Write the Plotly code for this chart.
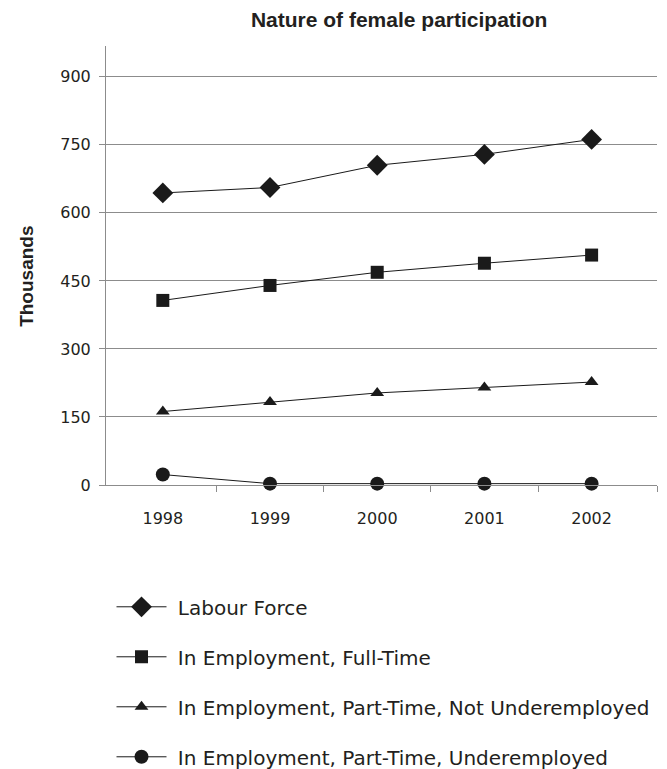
import plotly.graph_objects as go

years = [1998, 1999, 2000, 2001, 2002]
labour_force = [644, 656, 705, 729, 762]
full_time = [407, 440, 469, 489, 507]
part_time_not_under = [162, 183, 203, 215, 227]
part_time_under = [23, 3, 3, 3, 3]

series = [
    ("Labour Force", labour_force, "diamond", 16),
    ("In Employment, Full-Time", full_time, "square", 13),
    ("In Employment, Part-Time, Not Underemployed", part_time_not_under, "triangle-up", 12),
    ("In Employment, Part-Time, Underemployed", part_time_under, "circle", 14),
]

txt = "#231f20"
grid = "#8c8c8c"
body_font = "DejaVu Sans, Verdana, sans-serif"
head_font = "Liberation Sans, Arial, sans-serif"

# the page places the figure 8px in from the top-left corner
W, H = 659, 761

fig = go.Figure()
for i, (name, vals, sym, size) in enumerate(series):
    fig.add_trace(go.Scatter(
        x=years, y=vals, name="\u00a0" + name, mode="lines+markers",
        line=dict(color="#1a1a1a", width=1),
        marker=dict(symbol=sym, size=size, color="#1a1a1a"),
        legendgroup=f"g{i}", cliponaxis=False,
    ))

fig.update_layout(
    width=W, height=H,
    margin=dict(l=98, r=10, t=38, b=283.7, autoexpand=False),
    paper_bgcolor="white", plot_bgcolor="white",
    font=dict(family=body_font, size=16, color=txt),
    title=dict(text="<b>Nature of female participation</b>", x=0.532, xref="paper",
               xanchor="center",
               y=1 - 12 / H, yref="container", yanchor="middle",
               font=dict(family=head_font, size=21, color=txt)),
    showlegend=True,
    legend=dict(x=0.01, xanchor="left", y=-0.233, yanchor="top",
                orientation="v", tracegroupgap=21, itemwidth=50,
                font=dict(family=body_font, size=20, color=txt)),
    xaxis=dict(
        range=[1997.47, 2002.61], tickmode="array", tickvals=years,
        ticktext=[str(y) for y in years],
        ticks="outside", ticklen=19, tickcolor="rgba(0,0,0,0)",
        showgrid=False, showline=True, linecolor=grid, linewidth=1,
        zeroline=False,
        minor=dict(tickmode="array", tickvals=[1998.5, 1999.5, 2000.5, 2001.5, 2002.61],
                   ticks="outside", ticklen=6, tickcolor=grid, showgrid=False),
        tickfont=dict(size=16, color=txt),
    ),
    yaxis=dict(
        range=[0, 968], tickmode="array", tickvals=[0, 150, 300, 450, 600, 750, 900],
        ticks="outside", ticklen=6, tickcolor=grid,
        ticklabelstandoff=5,
        showgrid=True, gridcolor=grid, gridwidth=1,
        showline=True, linecolor=grid, linewidth=1, zeroline=False,
        tickfont=dict(size=16, color=txt),
    ),
)

fig.add_annotation(text="<b>Thousands</b>", x=(27 - 106) / 551, y=(485.3 - 277) / 439.3,
                   xref="paper", yref="paper", xanchor="center", yanchor="middle",
                   textangle=-90, showarrow=False,
                   font=dict(family=head_font, size=19, color=txt))

fig.write_html("out.html")
